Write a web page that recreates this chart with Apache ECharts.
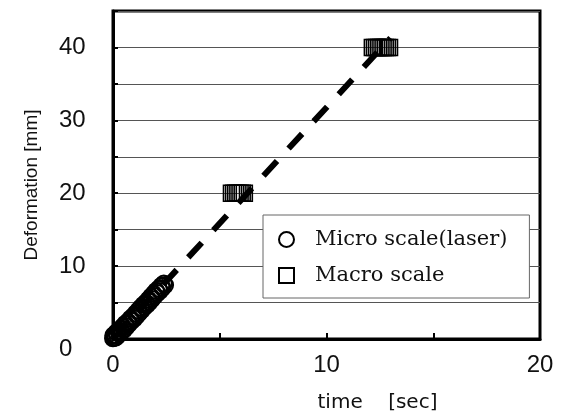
<!DOCTYPE html>
<html>
<head>
<meta charset="utf-8">
<script src="https://cdn.jsdelivr.net/npm/echarts@6/dist/echarts.min.js"></script>
<style>
html,body{margin:0;padding:0;background:#fff;}
#chart{width:564px;height:419px;}
</style>
</head>
<body>
<div id="chart"></div>
<script>
// ---- data ----
var seriesNames = ['Micro scale(laser)', 'Macro scale'];
var microTime = [0.00, 0.02, 0.05, 0.08, 0.12, 0.16, 0.20, 0.25, 0.30, 0.35, 0.40, 0.46, 0.52, 0.58, 0.64, 0.70, 0.76, 0.82, 0.88, 0.94, 1.00, 1.06, 1.12, 1.18, 1.24, 1.30, 1.36, 1.42, 1.48, 1.54, 1.60, 1.66, 1.72, 1.78, 1.84, 1.90, 1.96, 2.02, 2.08, 2.14, 2.20, 2.26, 2.32, 2.38, 2.44];
var microDef  = [0.1, 0.5, 0.2, 0.6, 0.2, 0.9, 0.4, 1.1, 0.7, 1.4, 1.0, 1.7, 1.3, 2.1, 1.7, 2.4, 2.1, 2.8, 2.5, 3.1, 2.8, 3.5, 3.2, 3.9, 3.6, 4.3, 4.0, 4.7, 4.4, 5.0, 4.7, 5.4, 5.1, 5.8, 5.5, 6.2, 5.9, 6.6, 6.3, 6.9, 6.6, 7.3, 7.0, 7.6, 7.4];
var macroTime = [5.55, 5.65, 5.75, 5.85, 5.95, 6.05, 6.15, 12.15, 12.25, 12.35, 12.45, 12.55, 12.65, 12.75, 12.85, 12.95];
var macroDef  = [20, 20, 20, 20, 20, 20, 20, 40, 40, 40, 40, 40, 40, 40, 40, 40];
var fitTime = [0, 13.0];
var fitDef  = [0, 41.3];
var xTickLabels = ['0', '10', '20'];
var yTickLabels = ['0', '10', '20', '30', '40'];
var xAxisName = 'time    [sec]';
var yAxisName = 'Deformation [mm]';

function zip(a, b){ return a.map(function(v,i){ return [v, b[i]]; }); }

var chart = echarts.init(document.getElementById('chart'));
var option = {
  backgroundColor: '#fff',
  animation: false,
  grid: {left: 113, right: 24, top: 11, bottom: 80, show: true, borderColor: '#000', borderWidth: 3, backgroundColor: 'transparent'},
  legend: {
    data: seriesNames,
    orient: 'vertical',
    left: 263, top: 215,
    padding: [14, 22, 12, 15],
    itemGap: 15,
    itemWidth: 15, itemHeight: 15,
    backgroundColor: '#fff',
    borderColor: '#666', borderWidth: 1,
    textStyle: {fontFamily: 'DejaVu Serif', fontSize: 21, color: '#111', padding: [0,0,0,16]}
  },
  xAxis: {
    type: 'value', min: 0, max: 20, interval: 5,
    name: xAxisName, nameLocation: 'middle', nameGap: 54,
    nameTextStyle: {fontFamily: 'DejaVu Sans', fontSize: 20, color: '#111', padding: [0,0,0,102]},
    axisLine: {lineStyle: {color: '#000', width: 3}},
    axisTick: {inside: true, length: 6, lineStyle: {color: '#000', width: 2}},
    axisLabel: {fontFamily: 'Liberation Sans', fontSize: 24, color: '#111', margin: 14,
      formatter: function(v){ return xTickLabels.indexOf(String(v)) >= 0 ? String(v) : ''; }},
    splitLine: {show: false}
  },
  yAxis: {
    type: 'value', min: 0, max: 45, interval: 5,
    name: yAxisName, nameLocation: 'middle', nameGap: 72,
    nameTextStyle: {fontFamily: 'Liberation Sans', fontSize: 19, color: '#111', padding: [0,20,0,0]},
    axisLine: {lineStyle: {color: '#000', width: 3}},
    axisTick: {inside: true, length: 5, lineStyle: {color: '#000', width: 2}},
    axisLabel: {fontFamily: 'Liberation Sans', fontSize: 24, color: '#111', margin: 54, align: 'left',
      formatter: function(v){
        var s = String(v);
        if (yTickLabels.indexOf(s) < 0) return '';
        return v === 0 ? '{z|' + s + '}' : s;
      },
      rich: {z: {fontFamily: 'Liberation Sans', fontSize: 24, color: '#111', padding: [20,0,0,0]}}},
    splitLine: {show: true, lineStyle: {color: '#555', width: 1}}
  },
  series: [
    {
      name: seriesNames[0], type: 'scatter', symbol: 'circle', symbolSize: 16,
      itemStyle: {color: 'rgba(255,255,255,0)', borderColor: '#000', borderWidth: 2, opacity: 1},
      data: zip(microTime, microDef), z: 3
    },
    {
      name: seriesNames[1], type: 'scatter', symbol: 'rect', symbolSize: 16,
      itemStyle: {color: 'rgba(255,255,255,0)', borderColor: '#000', borderWidth: 1.6, opacity: 1},
      data: zip(macroTime, macroDef), z: 3
    },
    {
      name: 'fit', type: 'line', showSymbol: false, symbol: 'none',
      lineStyle: {color: '#000', width: 6, type: [20, 17], cap: 'butt'},
      data: zip(fitTime, fitDef), z: 4, silent: true
    }
  ]
};
chart.setOption(option);
</script>
</body>
</html>
